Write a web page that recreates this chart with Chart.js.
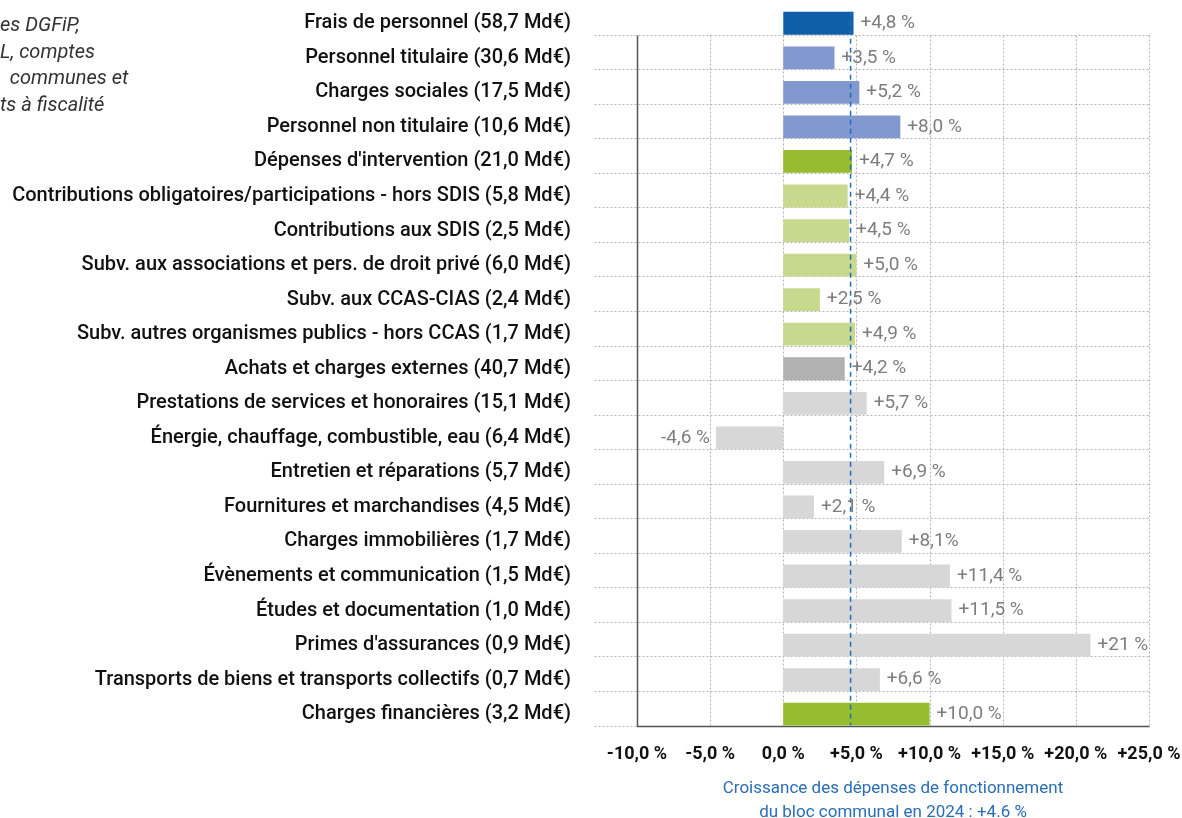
<!DOCTYPE html>
<html lang="fr">
<head>
<meta charset="utf-8">
<title>Dépenses de fonctionnement du bloc communal</title>
<script src="https://cdn.jsdelivr.net/npm/chart.js@4.4.1/dist/chart.umd.min.js"></script>
<style>
  html, body { margin: 0; padding: 0; background: #fff; }
  #cadre { position: relative; width: 1182px; height: 818px; overflow: hidden; }
  #note { position: absolute; left: 0; top: 11px; font: italic 20px Roboto, sans-serif; color: #333; line-height: 26.7px; }
</style>
</head>
<body>
<div id="cadre">
  <canvas id="depensesChart" width="1182" height="818"></canvas>
  <div id="note">es DGFiP,<br>L, comptes<br>&nbsp;&nbsp;communes et<br>ts à fiscalité</div>
</div>
<script>
// Data
const categories = [
  "Frais de personnel (58,7 Md€)",
  "Personnel titulaire (30,6 Md€)",
  "Charges sociales (17,5 Md€)",
  "Personnel non titulaire (10,6 Md€)",
  "Dépenses d'intervention (21,0 Md€)",
  "Contributions obligatoires/participations - hors SDIS (5,8 Md€)",
  "Contributions aux SDIS (2,5 Md€)",
  "Subv. aux associations et pers. de droit privé (6,0 Md€)",
  "Subv. aux CCAS-CIAS (2,4 Md€)",
  "Subv. autres organismes publics - hors CCAS (1,7 Md€)",
  "Achats et charges externes (40,7 Md€)",
  "Prestations de services et honoraires (15,1 Md€)",
  "Énergie, chauffage, combustible, eau (6,4 Md€)",
  "Entretien et réparations (5,7 Md€)",
  "Fournitures et marchandises (4,5 Md€)",
  "Charges immobilières (1,7 Md€)",
  "Évènements et communication (1,5 Md€)",
  "Études et documentation (1,0 Md€)",
  "Primes d'assurances (0,9 Md€)",
  "Transports de biens et transports collectifs (0,7 Md€)",
  "Charges financières (3,2 Md€)"
];
const growth = [4.8, 3.5, 5.2, 8.0, 4.7, 4.4, 4.5, 5.0, 2.5, 4.9, 4.2, 5.7, -4.6, 6.9, 2.1, 8.1, 11.4, 11.5, 21, 6.6, 10.0];
const growthLabels = [
  "+4,8 %", "+3,5 %", "+5,2 %", "+8,0 %", "+4,7 %", "+4,4 %", "+4,5 %",
  "+5,0 %", "+2,5 %", "+4,9 %", "+4,2 %", "+5,7 %", "-4,6 %", "+6,9 %",
  "+2,1 %", "+8,1%", "+11,4 %", "+11,5 %", "+21 %", "+6,6 %", "+10,0 %"
];
const xTicks = [-10, -5, 0, 5, 10, 15, 20, 25];
const averageGrowth = 4.6;
const caption = ["Croissance des dépenses de fonctionnement", "du bloc communal en 2024 : +4.6 %"];

// Colours per row
const barColors = [
  "#0f5fa8", "#8199cf", "#8199cf", "#8199cf",
  "#95bd2f", "#c7d98d", "#c7d98d", "#c7d98d", "#c7d98d", "#c7d98d",
  "#b1b1b1", "#d7d7d7", "#d7d7d7", "#d7d7d7", "#d7d7d7", "#d7d7d7",
  "#d7d7d7", "#d7d7d7", "#d7d7d7", "#d7d7d7",
  "#95bd2f"
];

Chart.defaults.font.family = "Roboto, 'Liberation Sans', sans-serif";

// Dotted grid placed along the bar bottoms, plus the axis lines
const grille = {
  id: "grille",
  beforeDatasetsDraw(chart) {
    const { ctx, scales: { x, y } } = chart;
    const half = chart.getDatasetMeta(0).data[0].height / 2;
    const yTop = Math.round(y.getPixelForValue(0) + half) + 0.5;
    const yBottom = Math.round(y.getPixelForValue(categories.length - 1) + half) + 0.5;
    const xLeft = Math.round(x.getPixelForValue(xTicks[0])) + 0.5;
    const xRight = Math.round(x.getPixelForValue(xTicks[xTicks.length - 1])) + 0.5;

    ctx.save();
    ctx.strokeStyle = "#b4b4b4";
    ctx.lineWidth = 1;
    ctx.setLineDash([2, 2]);
    categories.forEach((c, i) => {
      const yy = Math.round(y.getPixelForValue(i) + half) + 0.5;
      ctx.beginPath();
      ctx.moveTo(xLeft - 43, yy);
      ctx.lineTo(xRight, yy);
      ctx.stroke();
    });
    xTicks.slice(1).forEach(t => {
      const xx = Math.round(x.getPixelForValue(t)) + 0.5;
      ctx.beginPath();
      ctx.moveTo(xx, yTop);
      ctx.lineTo(xx, yBottom);
      ctx.stroke();
    });
    ctx.setLineDash([]);
    ctx.strokeStyle = "#555";
    ctx.lineWidth = 1.5;
    ctx.beginPath();
    ctx.moveTo(xLeft, yTop);
    ctx.lineTo(xLeft, yBottom);
    ctx.lineTo(xRight, yBottom);
    ctx.stroke();
    ctx.restore();
  },
  afterDatasetsDraw(chart) {
    const { ctx, scales: { x, y } } = chart;
    const bars = chart.getDatasetMeta(0).data;
    const half = bars[0].height / 2;

    // average growth line
    const xm = x.getPixelForValue(averageGrowth);
    ctx.save();
    ctx.strokeStyle = "#1f6cbf";
    ctx.lineWidth = 1.5;
    ctx.setLineDash([5, 4]);
    ctx.beginPath();
    ctx.moveTo(xm, y.getPixelForValue(0) - half);
    ctx.lineTo(xm, y.getPixelForValue(categories.length - 1) + half);
    ctx.stroke();
    ctx.restore();

    // value labels
    ctx.save();
    ctx.font = "19px Roboto, sans-serif";
    ctx.fillStyle = "#7d7d7d";
    ctx.textBaseline = "middle";
    bars.forEach((bar, i) => {
      if (growth[i] < 0) {
        ctx.textAlign = "right";
        ctx.fillText(growthLabels[i], bar.x - 6, bar.y);
      } else {
        ctx.textAlign = "left";
        ctx.fillText(growthLabels[i], bar.x + 7, bar.y);
      }
    });
    ctx.restore();
  }
};

const ctx = document.getElementById("depensesChart").getContext("2d");
new Chart(ctx, {
  type: "bar",
  data: {
    labels: categories,
    datasets: [
      {
        data: growth,
        backgroundColor: barColors,
        borderWidth: 0,
        barPercentage: 0.66,
        categoryPercentage: 1
      }
    ]
  },
  options: {
    indexAxis: "y",
    responsive: false,
    animation: false,
    layout: {
      padding: { top: 6, right: 33, bottom: -7, left: 0 }
    },
    plugins: {
      legend: { display: false },
      tooltip: { enabled: false }
    },
    scales: {
      x: {
        min: -10,
        max: 25,
        grid: { display: false, drawTicks: false },
        border: { display: false },
        afterBuildTicks: function (scale) {
          scale.ticks = xTicks.map(v => ({ value: v }));
        },
        afterFit: function (scale) {
          scale.paddingLeft = 0;
          scale.paddingRight = 0;
        },
        ticks: {
          color: "#111",
          padding: 12,
          maxRotation: 0,
          font: { size: 18, weight: "bold" },
          callback: function (value) {
            const txt = value.toFixed(1).replace(".", ",") + " %";
            return value > 0 ? "+" + txt : txt;
          }
        },
        title: {
          display: true,
          text: caption,
          color: "#2a6db5",
          font: { size: 17, lineHeight: 1.41 },
          padding: { top: 0, bottom: 0 }
        }
      },
      y: {
        grid: { display: false, drawTicks: false },
        border: { display: false },
        afterFit: function (scale) {
          scale.width = 637;
          scale.paddingTop = 0;
          scale.paddingBottom = 0;
        },
        ticks: {
          color: "#111",
          padding: 66,
          autoSkip: false,
          font: { size: 20, weight: 500 }
        }
      }
    }
  },
  plugins: [grille]
});
</script>
</body>
</html>
